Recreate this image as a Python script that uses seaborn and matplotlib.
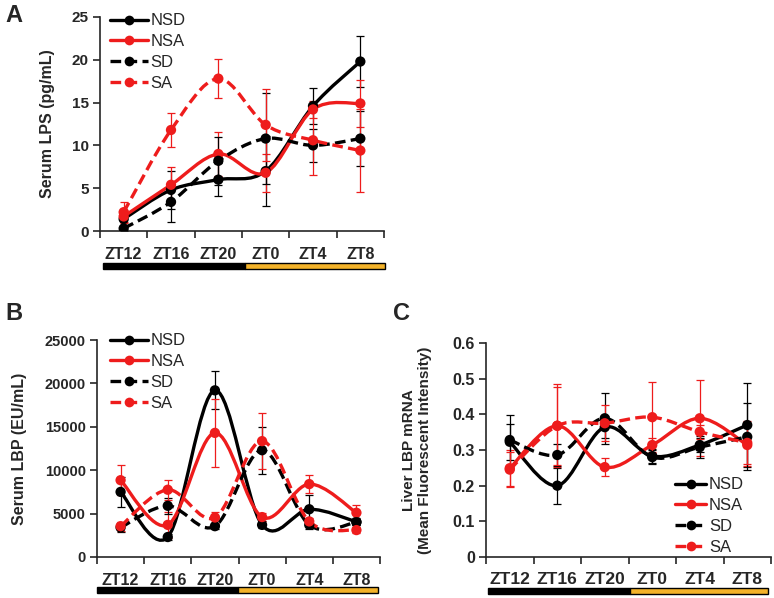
import numpy as np
import pandas as pd
import seaborn as sns
import matplotlib
matplotlib.use("Agg")
import matplotlib.pyplot as plt
from matplotlib.path import Path
from matplotlib.patches import PathPatch, Rectangle
from matplotlib.lines import Line2D
from matplotlib.ticker import FuncFormatter

times = ["ZT12", "ZT16", "ZT20", "ZT0", "ZT4", "ZT8"]
groups = ["NSD", "NSA", "SD", "SA"]

# panel A: serum LPS (pg/mL)
lps_nsd = [1.4, 4.8, 6.0, 7.0, 14.6, 19.8]
lps_nsa = [1.7, 5.4, 9.0, 6.8, 14.2, 14.9]
lps_sd = [0.3, 3.4, 8.2, 10.8, 10.0, 10.8]
lps_sa = [2.2, 11.8, 17.8, 12.4, 10.6, 9.4]
lps_nsd_err = [0.8, 2.2, 1.9, 4.1, 2.1, 3.0]
lps_nsa_err = [0.8, 2.1, 2.6, 2.2, 1.0, 2.7]
lps_sd_err = [0.3, 2.3, 2.8, 5.3, 1.9, 3.2]
lps_sa_err = [1.2, 2.0, 2.3, 4.2, 4.1, 4.8]

# panel B: serum LBP (EU/mL)
lbp_nsd = [7500, 2300, 19200, 3700, 5500, 4050]
lbp_nsa = [8850, 3700, 14300, 4600, 8400, 5100]
lbp_sd = [3400, 5900, 3550, 12300, 3700, 4000]
lbp_sa = [3550, 7750, 4550, 13350, 4100, 3100]
lbp_nsd_err = [1700, 300, 2200, 400, 1600, 400]
lbp_nsa_err = [1700, 1500, 3950, 500, 1050, 900]
lbp_sd_err = [500, 900, 300, 2700, 500, 300]
lbp_sa_err = [500, 1150, 600, 3200, 400, 300]

# panel C: liver LBP mRNA (MFI)
mrna_nsd = [0.323, 0.200, 0.364, 0.283, 0.314, 0.370]
mrna_nsa = [0.249, 0.368, 0.252, 0.314, 0.389, 0.314]
mrna_sd = [0.328, 0.286, 0.389, 0.280, 0.308, 0.337]
mrna_sa = [0.245, 0.368, 0.375, 0.392, 0.351, 0.320]
mrna_nsd_err = [0.05, 0.05, 0.03, 0.02, 0.02, 0.117]
mrna_nsa_err = [0.05, 0.117, 0.025, 0.02, 0.107, 0.06]
mrna_sd_err = [0.07, 0.03, 0.072, 0.02, 0.03, 0.094]
mrna_sa_err = [0.05, 0.11, 0.05, 0.10, 0.02, 0.06]

RED = "#EE1C1C"
GOLD = "#F3B229"
colors = {"NSD": "black", "NSA": RED, "SD": "black", "SA": RED}
dashes = {"NSD": "solid", "NSA": "solid", "SD": (0, (3.2, 1.6)), "SA": (0, (3.2, 1.6))}

sns.set_style("ticks")
plt.rcParams["font.family"] = ["Liberation Sans", "DejaVu Sans"]


def smooth_path(xs, ys):
    # Excel style smoothed line: Catmull-Rom as cubic Bezier segments
    pts = np.column_stack([xs, ys]).astype(float)
    p = np.vstack([pts[0], pts, pts[-1]])
    verts = [pts[0]]
    codes = [Path.MOVETO]
    for i in range(len(pts) - 1):
        p0, p1, p2, p3 = p[i], p[i + 1], p[i + 2], p[i + 3]
        verts += [p1 + (p2 - p0) / 6, p2 - (p3 - p1) / 6, p2]
        codes += [Path.CURVE4] * 3
    return Path(verts, codes)


def panel(rect, series, errs, ymax, ystep, ylabel, fmt, legend_anchor, legend_loc, hlen,
          xsize=11.5, ysize=10.5, xpad=11.5):
    ax = fig.add_axes(rect)
    x = np.arange(len(times))
    df = pd.DataFrame({
        "pos": np.tile(x, len(groups)),
        "value": np.concatenate(series),
        "group": np.repeat(groups, len(times)),
    })
    for g, vals, e in zip(groups, series, errs):
        ax.errorbar(x, vals, yerr=e, fmt="none", ecolor=colors[g], elinewidth=0.9,
                    capsize=3, capthick=0.9, zorder=2)
        ax.add_patch(PathPatch(smooth_path(x, vals), fill=False, edgecolor=colors[g],
                               lw=2.4, linestyle=dashes[g], zorder=3))
    sns.scatterplot(data=df, x="pos", y="value", hue="group", palette=colors,
                    s=55, edgecolor="none", legend=False, ax=ax, zorder=4)
    ax.set_xlim(-0.5, len(times) - 0.5)
    ax.set_ylim(0, ymax)
    ax.set_yticks(np.arange(0, ymax + ystep / 2, ystep))
    ax.yaxis.set_major_formatter(FuncFormatter(fmt))
    ax.set_xticks(np.arange(-0.5, len(times)))
    ax.set_xticklabels([])
    ax.set_xticks(x, minor=True)
    ax.set_xticklabels(times, minor=True, fontsize=xsize, fontweight="bold")
    ax.tick_params(axis="x", which="minor", length=0, pad=xpad)
    ax.tick_params(axis="x", which="major", length=5, width=1.2, direction="out")
    ax.tick_params(axis="y", length=5, width=1.2, direction="out", labelsize=ysize, pad=3)
    for lab in ax.get_yticklabels():
        lab.set_fontweight("bold")
    ax.set_xlabel("")
    ax.set_ylabel(ylabel, fontsize=11.5, fontweight="bold")
    sns.despine(ax=ax)
    for s in ["left", "bottom"]:
        ax.spines[s].set_linewidth(1.2)
    handles = [Line2D([], [], color=colors[g], lw=2.4, linestyle=dashes[g], marker="o",
                      markersize=7, markeredgewidth=0) for g in groups]
    ax.legend(handles, groups, loc=legend_loc, bbox_to_anchor=legend_anchor, frameon=False,
              fontsize=12, handlelength=hlen, handletextpad=0.15, labelspacing=0.35,
              borderpad=0, numpoints=1, borderaxespad=0)
    return ax


def day_bar(x0, x1, xmid, y_top, h=6):
    W, H = 774, 598
    fig.patches.append(Rectangle((x0 / W, 1 - (y_top + h) / H), (xmid - x0) / W, h / H,
                                 transform=fig.transFigure, facecolor="black",
                                 edgecolor="black", lw=1))
    fig.patches.append(Rectangle((xmid / W, 1 - (y_top + h) / H), (x1 - xmid) / W, h / H,
                                 transform=fig.transFigure, facecolor=GOLD,
                                 edgecolor="black", lw=1))


fig = plt.figure(figsize=(7.74, 5.98), dpi=100)

fmt_int = lambda v, p: f"{v:.0f}"
fmt_dec = lambda v, p: "0" if v == 0 else f"{v:.1f}"

axA = panel([100 / 774, 1 - 231 / 598, 284 / 774, 214 / 598],
            [lps_nsd, lps_nsa, lps_sd, lps_sa],
            [lps_nsd_err, lps_nsa_err, lps_sd_err, lps_sa_err],
            25, 5, "Serum LPS (pg/mL)", fmt_int, (0.035, 1.017), "upper left", 2.3,
            ysize=11)
axA.yaxis.set_label_coords(-0.158, 0.5)

axB = panel([97 / 774, 1 - 557 / 598, 283 / 774, 217 / 598],
            [lbp_nsd, lbp_nsa, lbp_sd, lbp_sa],
            [lbp_nsd_err, lbp_nsa_err, lbp_sd_err, lbp_sa_err],
            25000, 5000, "Serum LBP (EU/mL)", fmt_int, (0.045, 1.03), "upper left", 2.3)
axB.yaxis.set_label_coords(-0.247, 0.5)

axC = panel([486 / 774, 1 - 557 / 598, 285 / 774, 214 / 598],
            [mrna_nsd, mrna_nsa, mrna_sd, mrna_sa],
            [mrna_nsd_err, mrna_nsa_err, mrna_sd_err, mrna_sa_err],
            0.6, 0.1, "Liver LBP mRNA\n(Mean Fluorescent Intensity)", fmt_dec,
            (0.905, 0.01), "lower right", 1.9, xsize=12.5, ysize=11.5, xpad=11)
axC.yaxis.set_label_coords(-0.19, 0.5)
axC.yaxis.label.set_fontsize(11)

day_bar(103, 385, 245, 263)
day_bar(97, 378, 238, 587)
day_bar(488, 768, 630, 588)

fig.text(5 / 774, 1 - 4 / 598, "A", fontsize=17, fontweight="bold", va="top", ha="left")
fig.text(5 / 774, 1 - 302 / 598, "B", fontsize=17, fontweight="bold", va="top", ha="left")
fig.text(393 / 774, 1 - 302 / 598, "C", fontsize=17, fontweight="bold", va="top", ha="left")

fig.savefig("out.png", dpi=100)
